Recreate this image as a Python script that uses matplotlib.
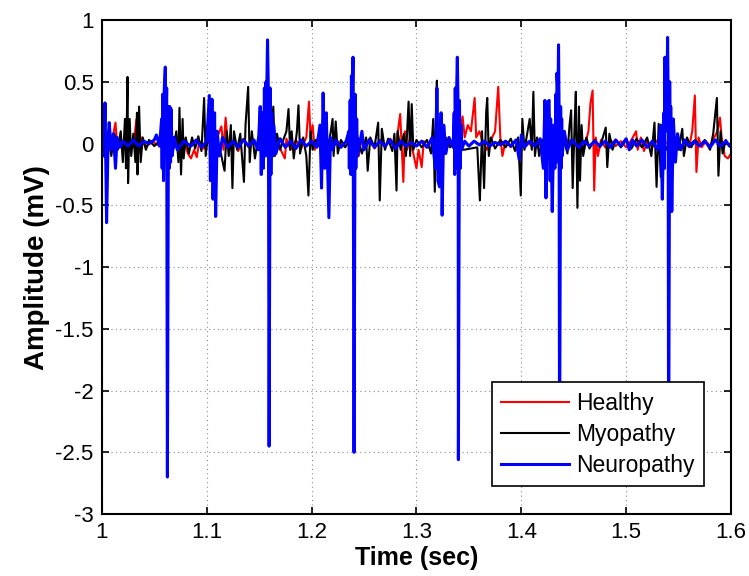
import numpy as np
from matplotlib import pyplot as plt

# EMG traces as (time [s], amplitude [mV]) vertices
healthy = [
    (1.000, 0.00), (1.004, 0.05), (1.008, -0.05), (1.011, 0.08), (1.013, 0.17), (1.015, -0.05),
    (1.018, 0.03), (1.022, -0.04), (1.026, 0.05), (1.030, -0.03), (1.033, 0.20), (1.035, -0.08),
    (1.038, 0.05), (1.042, -0.03), (1.048, 0.02), (1.055, -0.02), (1.062, 0.02), (1.070, -0.03),
    (1.078, 0.04), (1.082, -0.08), (1.085, -0.12), (1.088, -0.05), (1.0905, -0.11), (1.093, 0.02),
    (1.097, -0.04), (1.100, 0.03), (1.105, -0.03), (1.110, 0.05), (1.114, 0.14), (1.116, -0.05),
    (1.118, 0.21), (1.120, 0.02), (1.123, -0.05), (1.126, 0.03), (1.130, -0.06), (1.135, 0.04),
    (1.140, -0.03), (1.145, 0.02), (1.150, -0.05), (1.155, 0.03), (1.160, -0.03), (1.165, 0.02),
    (1.170, -0.04), (1.1745, -0.12), (1.176, 0.04), (1.180, -0.05), (1.185, 0.03), (1.190, -0.04),
    (1.195, 0.05), (1.1975, 0.34), (1.199, 0.05), (1.201, 0.15), (1.203, -0.05), (1.206, 0.05),
    (1.210, -0.03), (1.215, 0.03), (1.220, -0.03), (1.225, 0.02), (1.230, -0.02), (1.235, 0.03),
    (1.240, -0.03), (1.245, -0.10), (1.247, 0.02), (1.250, -0.03), (1.255, 0.04), (1.260, -0.04),
    (1.265, 0.03), (1.270, -0.03), (1.275, 0.04), (1.280, -0.05), (1.2845, 0.24), (1.2875, -0.31),
    (1.289, 0.10), (1.291, -0.05), (1.294, 0.05), (1.297, -0.08), (1.300, -0.20), (1.302, -0.05),
    (1.305, -0.19), (1.307, 0.02), (1.310, -0.03), (1.315, 0.03), (1.320, -0.02), (1.325, 0.02),
    (1.330, -0.02), (1.335, 0.03), (1.338, -0.05), (1.341, 0.05), (1.344, 0.22), (1.346, 0.05),
    (1.349, 0.15), (1.352, 0.10), (1.3555, 0.37), (1.357, 0.05), (1.360, 0.10), (1.363, 0.02),
    (1.367, -0.05), (1.371, 0.03), (1.375, 0.10), (1.378, 0.46), (1.380, 0.05), (1.382, -0.10),
    (1.385, 0.02), (1.390, -0.03), (1.395, 0.03), (1.400, -0.03), (1.405, 0.02), (1.410, -0.02),
    (1.415, 0.03), (1.420, -0.04), (1.425, 0.02), (1.430, -0.03), (1.435, 0.03), (1.440, -0.02),
    (1.445, 0.03), (1.450, -0.03), (1.455, 0.02), (1.460, -0.04), (1.464, 0.10), (1.466, 0.33),
    (1.468, 0.43), (1.4695, -0.38), (1.471, 0.05), (1.473, -0.10), (1.476, 0.03), (1.480, -0.03),
    (1.485, 0.03), (1.490, -0.02), (1.495, 0.02), (1.500, -0.03), (1.505, 0.03), (1.5095, 0.10),
    (1.511, -0.05), (1.514, 0.05), (1.517, -0.06), (1.520, 0.02), (1.525, -0.03), (1.530, 0.03),
    (1.535, -0.02), (1.540, 0.02), (1.545, -0.05), (1.548, 0.05), (1.552, -0.03), (1.556, 0.02),
    (1.560, -0.03), (1.563, 0.10), (1.5655, 0.39), (1.567, -0.23), (1.569, 0.05), (1.572, -0.03),
    (1.576, 0.02), (1.580, -0.02), (1.584, 0.05), (1.587, 0.10), (1.5895, 0.21), (1.591, 0.05),
    (1.594, -0.10), (1.597, -0.12), (1.600, -0.08),
]

myopathy = [
    (1.000, 0.00), (1.003, -0.05), (1.006, 0.05), (1.009, -0.10), (1.012, 0.08), (1.015, -0.05),
    (1.018, 0.10), (1.020, -0.15), (1.022, 0.20), (1.023, -0.20), (1.0245, 0.54), (1.025, -0.32),
    (1.0265, 0.20), (1.028, -0.10), (1.030, 0.08), (1.032, -0.15), (1.0335, 0.25), (1.034, -0.25),
    (1.0355, 0.30), (1.037, -0.15), (1.039, 0.05), (1.042, -0.05), (1.045, 0.03), (1.050, -0.02),
    (1.055, 0.02), (1.060, -0.03), (1.065, 0.04), (1.068, -0.05), (1.071, 0.10), (1.073, -0.15),
    (1.074, 0.29), (1.0755, -0.25), (1.077, 0.20), (1.078, -0.12), (1.080, 0.05), (1.083, -0.08),
    (1.086, 0.05), (1.089, -0.04), (1.092, 0.06), (1.095, -0.06), (1.0975, 0.37), (1.099, -0.10),
    (1.101, 0.05), (1.105, -0.03), (1.110, 0.04), (1.114, -0.10), (1.117, -0.22), (1.119, 0.10),
    (1.121, -0.10), (1.123, 0.15), (1.1245, -0.36), (1.126, 0.10), (1.129, -0.05), (1.132, 0.08),
    (1.1355, -0.31), (1.137, 0.15), (1.1395, 0.46), (1.141, -0.15), (1.143, 0.10), (1.146, -0.12),
    (1.149, 0.05), (1.152, -0.03), (1.156, 0.03), (1.160, -0.05), (1.162, 0.10), (1.1635, 0.30),
    (1.165, -0.10), (1.167, 0.08), (1.170, -0.05), (1.173, 0.03), (1.176, 0.10), (1.178, 0.28),
    (1.1795, -0.05), (1.181, 0.10), (1.183, -0.12), (1.186, 0.10), (1.1875, 0.31), (1.189, -0.08),
    (1.192, 0.05), (1.195, -0.10), (1.197, -0.42), (1.199, 0.10), (1.201, -0.05), (1.204, 0.03),
    (1.208, -0.03), (1.212, 0.05), (1.215, -0.05), (1.218, 0.08), (1.220, 0.20), (1.221, -0.10),
    (1.223, 0.18), (1.225, -0.08), (1.228, 0.03), (1.232, -0.03), (1.236, 0.02), (1.240, -0.02),
    (1.244, 0.05), (1.248, -0.08), (1.252, 0.05), (1.2535, -0.22), (1.256, 0.05), (1.260, -0.03),
    (1.2635, 0.17), (1.265, -0.46), (1.267, 0.12), (1.270, -0.05), (1.273, 0.04), (1.277, -0.06),
    (1.279, 0.08), (1.281, -0.38), (1.282, 0.10), (1.285, -0.05), (1.288, 0.08), (1.290, -0.10),
    (1.2925, 0.34), (1.294, -0.10), (1.2955, 0.32), (1.297, -0.05), (1.300, 0.03), (1.305, -0.03),
    (1.310, 0.03), (1.314, -0.08), (1.316, 0.20), (1.3175, -0.39), (1.319, 0.40), (1.3195, 0.51),
    (1.321, -0.15), (1.323, 0.20), (1.325, -0.10), (1.328, 0.05), (1.332, -0.03), (1.336, 0.02),
    (1.345, -0.05), (1.358, -0.03), (1.3605, -0.46), (1.3625, 0.10), (1.3645, -0.36), (1.3665, 0.25),
    (1.3675, 0.37), (1.369, -0.10), (1.371, 0.05), (1.375, -0.04), (1.380, 0.03), (1.385, -0.03),
    (1.390, 0.04), (1.394, -0.06), (1.397, 0.05), (1.3995, -0.42), (1.401, 0.20), (1.403, -0.05),
    (1.406, 0.10), (1.408, 0.20), (1.410, -0.05), (1.4115, 0.42), (1.413, -0.10), (1.415, 0.05),
    (1.417, -0.10), (1.420, 0.03), (1.425, -0.03), (1.430, 0.03), (1.435, -0.03), (1.440, 0.05),
    (1.444, -0.08), (1.446, 0.15), (1.4475, 0.27), (1.449, -0.36), (1.451, 0.20), (1.452, 0.42),
    (1.4535, -0.52), (1.455, 0.30), (1.456, -0.30), (1.4575, 0.15), (1.459, -0.10), (1.462, 0.05),
    (1.465, -0.04), (1.470, 0.03), (1.475, -0.03), (1.4805, 0.13), (1.482, -0.19), (1.484, 0.08),
    (1.487, -0.05), (1.490, 0.03), (1.495, -0.03), (1.500, 0.03), (1.505, -0.04), (1.510, 0.04),
    (1.515, -0.03), (1.520, 0.05), (1.524, -0.10), (1.527, 0.17), (1.529, -0.35), (1.531, 0.16),
    (1.533, -0.27), (1.535, 0.10), (1.538, -0.05), (1.545, 0.05), (1.550, -0.05), (1.5535, 0.12),
    (1.555, -0.10), (1.558, 0.05), (1.562, -0.03), (1.566, 0.03), (1.570, -0.02), (1.575, 0.03),
    (1.580, -0.05), (1.583, 0.08), (1.5865, 0.37), (1.588, -0.26), (1.590, 0.10), (1.592, -0.08),
    (1.595, 0.03), (1.598, -0.02), (1.600, 0.00),
]

neuropathy = [
    (1.000, 0.00), (1.001, 0.30), (1.002, -0.10), (1.003, 0.33), (1.0045, -0.64), (1.006, 0.05),
    (1.007, 0.17), (1.009, -0.05), (1.011, 0.08), (1.013, -0.20), (1.0145, 0.05), (1.017, -0.03),
    (1.020, 0.02), (1.025, -0.02), (1.030, 0.03), (1.035, -0.02), (1.040, 0.02), (1.045, 0.00),
    (1.050, 0.03), (1.052, 0.07), (1.055, -0.02), (1.057, 0.20), (1.0575, -0.20), (1.058, 0.40),
    (1.0588, -0.30), (1.0595, 0.45), (1.0605, 0.62), (1.0612, 0.10), (1.0618, 0.45), (1.0625, -2.70),
    (1.0635, 0.30), (1.0642, -0.20), (1.0648, 0.30), (1.0655, -0.15), (1.066, 0.28), (1.067, -0.10),
    (1.069, 0.05), (1.072, -0.05), (1.078, 0.02), (1.085, -0.02), (1.090, 0.03), (1.095, -0.03),
    (1.100, 0.02), (1.1025, 0.39), (1.1035, -0.30), (1.105, 0.36), (1.106, -0.45), (1.1075, 0.25),
    (1.1085, -0.59), (1.110, 0.10), (1.112, -0.10), (1.115, 0.05), (1.120, -0.03), (1.125, 0.02),
    (1.130, -0.03), (1.135, 0.03), (1.140, -0.02), (1.145, 0.03), (1.149, -0.05), (1.151, 0.30),
    (1.152, -0.25), (1.153, 0.25), (1.154, -0.20), (1.155, 0.45), (1.156, -0.10), (1.1565, 0.50),
    (1.157, 0.30), (1.158, 0.84), (1.1588, 0.40), (1.1595, -2.45), (1.1605, 0.45), (1.1612, -0.25),
    (1.162, 0.25), (1.163, -0.10), (1.164, 0.15), (1.166, -0.08), (1.170, 0.04), (1.175, -0.03),
    (1.180, 0.02), (1.185, -0.04), (1.190, 0.03), (1.195, -0.02), (1.200, 0.02), (1.205, -0.03),
    (1.208, 0.15), (1.2095, -0.36), (1.211, 0.41), (1.2125, -0.20), (1.214, 0.25), (1.2165, -0.60),
    (1.218, 0.05), (1.220, -0.05), (1.223, 0.03), (1.228, -0.03), (1.233, 0.02), (1.2355, 0.10),
    (1.236, -0.20), (1.2368, 0.35), (1.2375, -0.25), (1.238, 0.55), (1.2388, 0.20), (1.2395, 0.70),
    (1.2405, -2.50), (1.2415, 0.40), (1.2422, -0.20), (1.243, 0.20), (1.2438, -0.10), (1.248, 0.10),
    (1.250, -0.05), (1.255, 0.03), (1.260, -0.03), (1.265, 0.02), (1.270, -0.02), (1.275, 0.03),
    (1.280, -0.04), (1.285, 0.02), (1.290, -0.02), (1.295, 0.01), (1.300, -0.02), (1.305, 0.02),
    (1.310, -0.03), (1.315, 0.05), (1.318, -0.20), (1.3195, 0.45), (1.3205, -0.30), (1.322, -0.35),
    (1.3235, 0.25), (1.3245, -0.58), (1.326, 0.15), (1.328, -0.08), (1.331, 0.05), (1.335, -0.03),
    (1.336, 0.25), (1.3365, -0.25), (1.337, 0.45), (1.3378, -0.20), (1.338, 0.30), (1.339, 0.70),
    (1.3398, 0.25), (1.340, -2.56), (1.341, 0.35), (1.3418, -0.20), (1.3425, 0.15), (1.343, -0.05),
    (1.346, 0.02), (1.350, -0.02), (1.355, 0.02), (1.360, -0.01), (1.365, 0.02), (1.370, -0.02),
    (1.375, 0.01), (1.380, -0.01), (1.385, 0.02), (1.390, -0.02), (1.395, 0.03), (1.398, -0.13),
    (1.400, 0.07), (1.403, -0.03), (1.408, 0.02), (1.413, -0.02), (1.418, 0.04), (1.421, -0.20),
    (1.4225, 0.35), (1.4235, -0.44), (1.425, 0.33), (1.4265, 0.35), (1.4275, -0.30), (1.428, 0.20),
    (1.4295, -0.55), (1.431, 0.15), (1.432, -0.20), (1.433, 0.40), (1.4335, -0.15), (1.434, 0.57),
    (1.435, 0.40), (1.4355, 0.80), (1.436, 0.30), (1.4365, -2.60), (1.4375, 0.30), (1.438, -0.20),
    (1.4385, 0.20), (1.439, -0.10), (1.441, 0.10), (1.444, -0.05), (1.448, 0.03), (1.455, -0.03),
    (1.460, 0.02), (1.465, -0.02), (1.470, 0.02), (1.475, -0.02), (1.480, 0.02), (1.485, -0.03),
    (1.490, 0.03), (1.495, -0.02), (1.500, 0.04), (1.503, -0.05), (1.506, 0.03), (1.510, -0.02),
    (1.515, 0.03), (1.520, -0.03), (1.525, 0.02), (1.530, -0.05), (1.533, 0.15), (1.5345, -0.45),
    (1.536, 0.25), (1.5365, -0.20), (1.537, 0.70), (1.5375, 0.10), (1.538, 0.50), (1.5388, 0.30),
    (1.5395, 0.86), (1.540, 0.40), (1.5405, -2.68), (1.5415, 0.50), (1.542, -0.20), (1.5425, 0.30),
    (1.5435, -0.55), (1.545, 0.20), (1.547, -0.15), (1.549, 0.08), (1.552, -0.05), (1.556, 0.03),
    (1.560, -0.02), (1.565, 0.02), (1.570, -0.02), (1.575, 0.02), (1.580, -0.03), (1.585, 0.03),
    (1.590, -0.02), (1.595, 0.02), (1.600, -0.03),
]

series_labels = ["Healthy", "Myopathy", "Neuropathy"]
series_colors = ["#ff0000", "#000000", "#0000ff"]
series_widths = [1.5, 1.5, 2.2]

x_ticks = [1.0, 1.1, 1.2, 1.3, 1.4, 1.5, 1.6]
x_tick_labels = ["1", "1.1", "1.2", "1.3", "1.4", "1.5", "1.6"]
y_ticks = [-3, -2.5, -2, -1.5, -1, -0.5, 0, 0.5, 1]
y_tick_labels = ["-3", "-2.5", "-2", "-1.5", "-1", "-0.5", "0", "0.5", "1"]

plt.rcParams['font.family'] = ['Liberation Sans', 'DejaVu Sans']
plt.rcParams['axes.unicode_minus'] = False

fig = plt.figure(figsize=(7.49, 5.76), dpi=100)
ax = fig.add_axes([0.136, 0.1076, 0.840, 0.8574])

for pts, lbl, col, lw in zip([healthy, myopathy, neuropathy], series_labels, series_colors, series_widths):
    t, v = np.array(pts).T
    ax.plot(t, v, color=col, lw=lw, label=lbl)

ax.set_xlim(1.0, 1.6)
ax.set_ylim(-3, 1)
ax.set_xticks(x_ticks)
ax.set_xticklabels(x_tick_labels)
ax.set_yticks(y_ticks)
ax.set_yticklabels(y_tick_labels)
ax.tick_params(direction='in', top=True, right=True, length=5, width=1.2, labelsize=16, pad=6)
ax.grid(True, color='0.55', ls=(0, (1, 3)), lw=0.8)
for sp in ax.spines.values():
    sp.set_linewidth(1.5)

ax.set_xlabel("Time (sec)", fontsize=18, fontweight='bold', labelpad=2)
ax.set_ylabel("Amplitude (mV)", fontsize=20, fontweight='bold', labelpad=4)

leg = ax.legend(loc='lower right', bbox_to_anchor=(0.957, 0.057), fontsize=16.5,
                fancybox=False, framealpha=1, edgecolor='black', borderaxespad=0,
                handlelength=3.0, handletextpad=0.3, labelspacing=0.35, borderpad=0.4)
leg.get_frame().set_linewidth(1.2)

fig.savefig("out.png", dpi=100)
